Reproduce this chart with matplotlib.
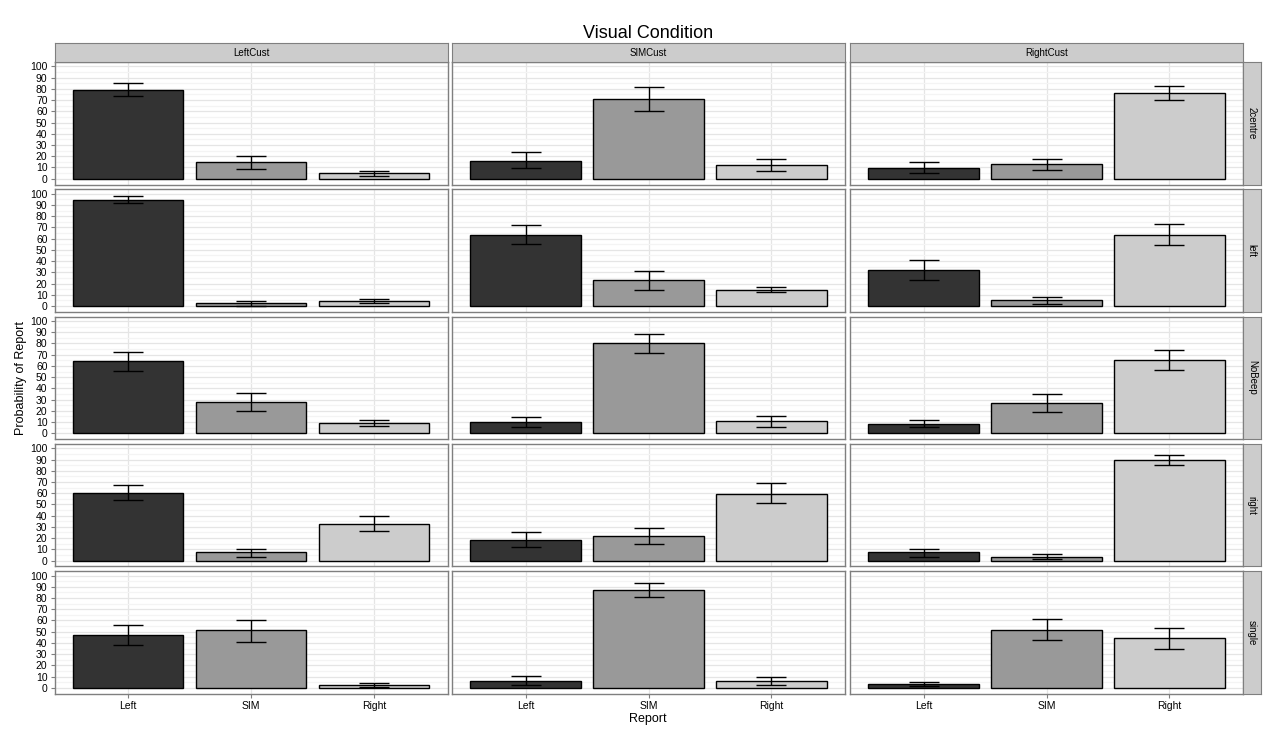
import matplotlib.pyplot as plt
import numpy as np

plt.rcParams['font.family'] = ['Liberation Sans', 'DejaVu Sans']

reports = ['Left', 'SIM', 'Right']
cues = ['LeftCust', 'SIMCust', 'RightCust']
conditions = ['2centre', 'left', 'NoBeep', 'right', 'single']

# one list per cue column, values per report (Left, SIM, Right)
centre_mean = [[79.3, 15.1, 5.3], [16.0, 71.2, 12.5], [9.8, 13.4, 76.6]]
centre_lo = [[73.9, 8.9, 2.7], [9.2, 59.9, 7.1], [5.3, 8.0, 70.3]]
centre_hi = [[85.5, 20.5, 7.1], [24.0, 81.9, 17.2], [15.1, 17.8, 82.8]]

left_mean = [[94.0, 2.2, 4.0], [63.4, 22.9, 13.9], [31.9, 4.9, 63.4]]
left_lo = [[91.4, 0.4, 2.2], [55.3, 13.9, 12.0], [22.9, 1.5, 54.4]]
left_hi = [[97.7, 4.0, 6.0], [72.4, 31.0, 16.6], [40.9, 7.6, 73.3]]

nobeep_mean = [[64.6, 28.0, 8.9], [10.2, 80.7, 11.0], [8.4, 27.1, 65.5]]
nobeep_lo = [[55.7, 20.0, 6.6], [5.7, 71.8, 5.7], [5.7, 19.1, 56.6]]
nobeep_hi = [[72.7, 36.0, 12.0], [14.6, 88.7, 15.5], [12.0, 35.2, 74.5]]

right_mean = [[60.2, 7.2, 32.5], [18.1, 21.7, 59.7], [7.2, 3.6, 89.5]]
right_lo = [[54.2, 3.6, 26.2], [11.8, 14.5, 51.5], [3.6, 1.8, 85.0]]
right_hi = [[66.9, 9.9, 39.8], [25.3, 28.9, 68.7], [9.9, 5.4, 94.0]]

single_mean = [[47.3, 51.3, 2.5], [6.2, 87.5, 6.2], [3.5, 51.8, 44.6]]
single_lo = [[38.4, 41.0, 0.9], [2.7, 81.2, 2.7], [1.5, 42.9, 34.8]]
single_hi = [[56.2, 60.0, 4.5], [10.7, 93.8, 9.8], [5.3, 61.6, 53.6]]

means = [centre_mean, left_mean, nobeep_mean, right_mean, single_mean]
lows = [centre_lo, left_lo, nobeep_lo, right_lo, single_lo]
highs = [centre_hi, left_hi, nobeep_hi, right_hi, single_hi]

fills = ['#333333', '#999999', '#cccccc']

W, H = 1280, 738
fig = plt.figure(figsize=(W / 100, H / 100), dpi=100)


def px_axes(x, y, w, h):
    return fig.add_axes([x / W, 1 - (y + h) / H, w / W, h / H])


col_x = [54.5, 452.0, 850.0]
pw = 393.0
row_y0 = 62.0
ph = 122.5
rgap = 4.8
grey50 = '#7f7f7f'

x = np.arange(1, 4)
for r, cond in enumerate(conditions):
    py = row_y0 + r * (ph + rgap)
    for c, cue in enumerate(cues):
        ax = px_axes(col_x[c], py, pw, ph)
        m = np.array(means[r][c])
        lo = np.array(lows[r][c])
        hi = np.array(highs[r][c])
        ax.bar(x, m, width=0.9, color=fills, edgecolor='black', linewidth=1.0, zorder=3)
        ax.errorbar(x, m, yerr=[m - lo, hi - m], fmt='none', ecolor='black',
                    elinewidth=1.0, capsize=11, capthick=1.0, zorder=4)
        ax.set_xlim(0.4, 3.6)
        ax.set_ylim(-5.2, 103.9)
        ax.set_yticks(np.arange(0, 101, 10))
        ax.set_yticks(np.arange(5, 100, 10), minor=True)
        ax.set_xticks(x)
        ax.grid(True, which='major', color='#e5e5e5', linewidth=0.9, zorder=0)
        ax.grid(True, which='minor', axis='y', color='#f4f4f4', linewidth=0.9, zorder=0)
        ax.set_axisbelow(True)
        for s in ax.spines.values():
            s.set_color(grey50)
            s.set_linewidth(1.0)
        ax.tick_params(which='minor', length=0)
        ax.tick_params(axis='both', which='major', length=3, color=grey50,
                       labelsize=7.5, labelcolor='black', pad=2)
        if c == 0:
            ax.set_yticklabels([str(v) for v in range(0, 101, 10)])
        else:
            ax.tick_params(axis='y', left=False, labelleft=False)
        if r == len(conditions) - 1:
            ax.set_xticklabels(reports)
            ax.tick_params(axis='x', pad=2)
        else:
            ax.tick_params(axis='x', bottom=False, labelbottom=False)

        if r == 0:
            sa = px_axes(col_x[c], 43.0, pw, 19.0)
            sa.set_facecolor('#cccccc')
            sa.set_xticks([])
            sa.set_yticks([])
            for s in sa.spines.values():
                s.set_color(grey50)
            sa.text(0.5, 0.5, cue, ha='center', va='center', fontsize=7, transform=sa.transAxes)
        if c == len(cues) - 1:
            sa = px_axes(col_x[c] + pw, py, 17.5, ph)
            sa.set_facecolor('#cccccc')
            sa.set_xticks([])
            sa.set_yticks([])
            for s in sa.spines.values():
                s.set_color(grey50)
            sa.text(0.5, 0.5, cond, ha='center', va='center', fontsize=7,
                    rotation=-90, transform=sa.transAxes)

fig.text(648 / W, 1 - 33 / H, 'Visual Condition', ha='center', va='center', fontsize=13)
fig.text(648 / W, 1 - 719 / H, 'Report', ha='center', va='center', fontsize=9)
fig.text(21 / W, 1 - 378 / H, 'Probability of Report', ha='center', va='center',
         rotation=90, fontsize=9)

fig.savefig('out.png', dpi=100, facecolor='white')
